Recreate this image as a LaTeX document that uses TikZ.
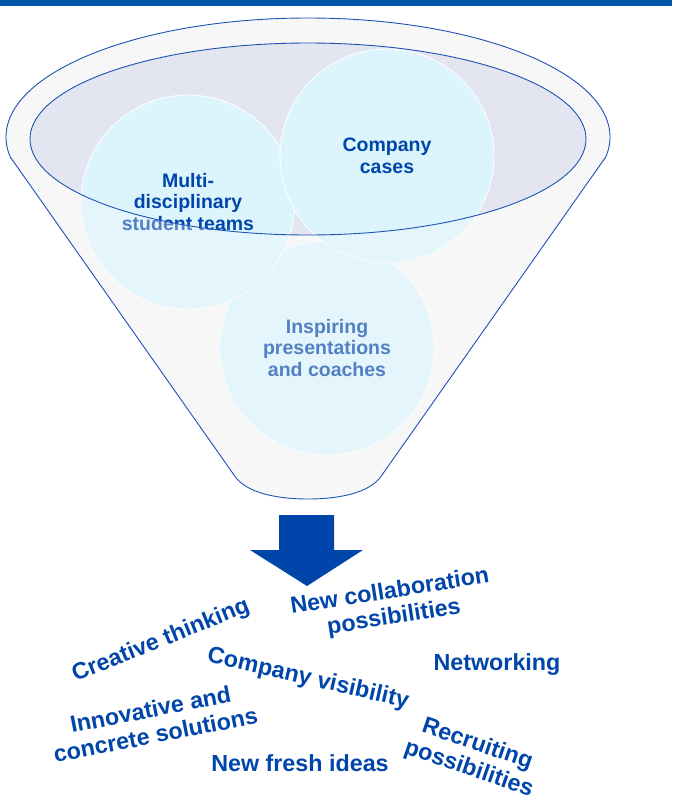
\documentclass[tikz,border=0pt]{standalone}
\usepackage{fontspec}
\setmainfont{Liberation Sans}
\definecolor{barblue}{RGB}{0,86,166}
\definecolor{rimblue}{RGB}{30,82,180}
\definecolor{inkblue}{RGB}{0,70,170}
\definecolor{bodygray}{RGB}{247,247,247}
\definecolor{mouthgray}{RGB}{227,230,240}
\definecolor{bubblecyan}{RGB}{220,245,253}
\begin{document}
\begin{tikzpicture}[x=1pt,y=-1pt,
  bubble/.style={circle,draw=white,line width=0.8pt,fill=bubblecyan,
    minimum size=214pt,inner sep=0pt,text=inkblue,align=center,
    font=\bfseries\fontsize{19.5}{21.5}\selectfont},
  gain/.style={text=inkblue,align=center,inner sep=0pt,
    font=\bfseries\fontsize{23.3}{26}\selectfont},
  rim/.style={draw=rimblue,line width=0.9pt}]
\useasboundingbox (0,0) rectangle (672,808);
% heading bar
\fill[barblue] (0,0) rectangle (672,6);
% funnel body: bowl plus cone
\def\cone{(11,158) -- (234,475) .. controls (246,494) and (280,499) .. (308,499)
  .. controls (336,499) and (370,494) .. (382,475) -- (605,158) -- cycle}
\def\bowl{(308,137) ellipse [x radius=302pt, y radius=119pt]}
\fill[bodygray] \bowl;
\fill[bodygray] \cone;
% funnel mouth
\fill[mouthgray] (308,139) ellipse [x radius=278pt, y radius=96pt];
% ingredient bubbles
\node[bubble] (coach) at (327,348) {Inspiring\\presentations\\and coaches};
\node[bubble] (teams) at (188,202) {Multi-\\disciplinary\\student teams};
\node[bubble] (cases) at (387,156) {Company\\cases};
% funnel wall veils the bubbles below the mouth
\begin{scope}
  \clip \bowl \cone;
  \fill[bodygray,opacity=0.33,even odd rule] (0,0) rectangle (672,520)
    (308,139) ellipse [x radius=278pt, y radius=96pt];
\end{scope}
% funnel outlines
\begin{scope}
  \clip (0,0) rectangle (672,158);
  \draw[rim] \bowl;
\end{scope}
\draw[rim] (11,158) -- (234,475) .. controls (246,494) and (280,499) .. (308,499)
  .. controls (336,499) and (370,494) .. (382,475) -- (605,158);
\draw[rim] (308,139) ellipse [x radius=278pt, y radius=96pt];
% outflow arrow
\fill[inkblue] (279,515) -- (334,515) -- (334,550) -- (363,550) -- (307,586)
  -- (250,550) -- (279,550) -- cycle;
% outcomes
\node[gain,rotate=22] (creative) at (161,641) {Creative thinking};
\node[gain,rotate=9] (collab) at (392,605) {New collaboration\\possibilities};
\node[gain,rotate=-13] (visib) at (308,679) {Company visibility};
\node[gain] (network) at (497,665) {Networking};
\node[gain,rotate=11] (innov) at (153,722) {Innovative and\\concrete solutions};
\node[gain] (fresh) at (300,763) {New fresh ideas};
\node[gain,rotate=-19] (recruit) at (473,757) {Recruiting\\possibilities};
\end{tikzpicture}
\end{document}
